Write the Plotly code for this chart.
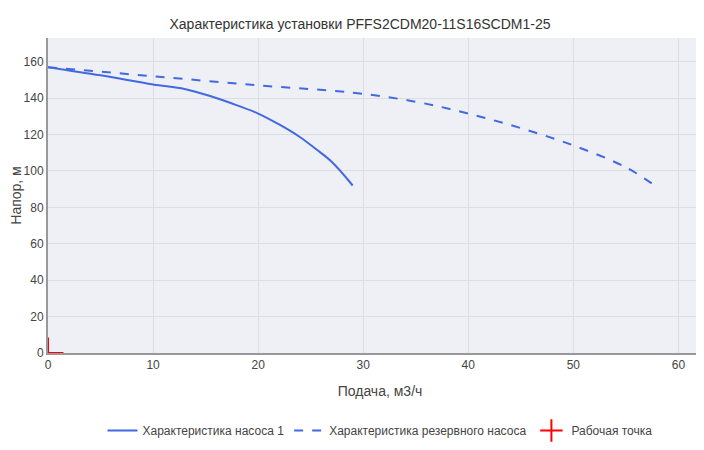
import plotly.graph_objects as go

pump1_q = [0, 5, 10, 13, 15.5, 18, 20, 22, 24, 25.5, 27, 29]
pump1_h = [157, 152.5, 147.5, 145, 141, 136, 131.5, 125.5, 118.5, 112, 105, 92]

reserve_q = [0, 10, 20, 29, 35, 40, 45, 50, 55, 58]
reserve_h = [157, 152, 147, 143, 138, 131.5, 123.5, 114, 102, 91]

work_q = [0]
work_h = [0]

fig = go.Figure()
fig.add_trace(go.Scatter(x=pump1_q, y=pump1_h, mode='lines', line_shape='spline',
                         name='Характеристика насоса 1',
                         line=dict(color='#4169E1', width=2)))
fig.add_trace(go.Scatter(x=reserve_q, y=reserve_h, mode='lines', line_shape='spline',
                         name='Характеристика резервного насоса',
                         line=dict(color='#4169E1', width=2, dash='dash')))
fig.add_trace(go.Scatter(x=work_q, y=work_h, mode='markers', name='Рабочая точка',
                         marker=dict(symbol='cross-thin', size=22, color='red',
                                     line=dict(color='red', width=2))))

fig.update_layout(
    width=704, height=450,
    title=dict(text='Характеристика установки PFFS2CDM20-11S16SCDM1-25', x=0.5, y=0.975,
               font=dict(size=14, color='#333')),
    plot_bgcolor='#eff0f5', paper_bgcolor='white',
    margin=dict(l=40, r=0, t=30, b=105, autoexpand=False),
    font=dict(family='Arial, Liberation Sans', size=12, color='#444'),
    legend=dict(orientation='h', x=0.5, xanchor='center', y=-0.2, yanchor='top'),
    showlegend=True,
)
fig.update_xaxes(title_text='Подача, м3/ч', range=[0, 63.2], dtick=10,
                 gridcolor='#dcdde3', showline=True, linecolor='#999', linewidth=2,
                 zeroline=False, automargin=False)
fig.update_yaxes(title_text='Напор, м', range=[0, 173], dtick=20, title_standoff=4,
                 gridcolor='#dcdde3', showline=True, linecolor='#999', linewidth=2,
                 zeroline=False, automargin=False)

fig.write_html('out.html')
